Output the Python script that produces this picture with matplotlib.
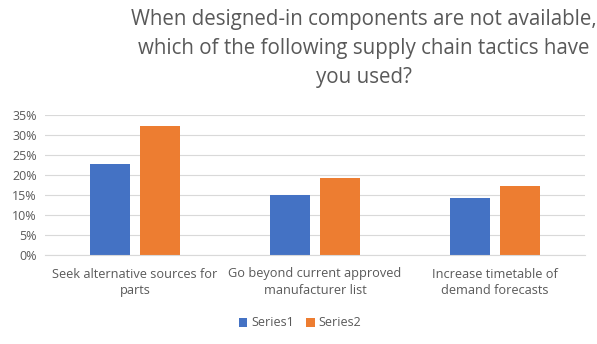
import numpy as np
import matplotlib.pyplot as plt
from matplotlib.ticker import PercentFormatter

categories = ['Seek alternative sources for\nparts',
              'Go beyond current approved\nmanufacturer list',
              'Increase timetable of\ndemand forecasts']
series1 = [0.227, 0.150, 0.143]
series2 = [0.323, 0.193, 0.172]

plt.rcParams['font.family'] = ['Open Sans', 'DejaVu Sans']
grey = '#595959'

fig = plt.figure(figsize=(5.97, 3.44), dpi=100)
ax = fig.add_axes([45 / 597, 1 - 255 / 344, 540 / 597, 140 / 344])

x = np.arange(len(categories))
w = 0.22
ax.bar(x - 0.03 - w / 2, series1, w, color='#4472C4', label='Series1')
ax.bar(x + 0.03 + w / 2, series2, w, color='#ED7D31', label='Series2')

ax.set_xlim(-0.5, 2.5)
ax.set_ylim(0, 0.35)
ax.set_yticks(np.arange(0, 0.36, 0.05))
ax.yaxis.set_major_formatter(PercentFormatter(1.0, decimals=0))
ax.grid(axis='y', color='#D9D9D9', linewidth=0.8)
ax.set_axisbelow(True)
for s in ['top', 'right', 'left']:
    ax.spines[s].set_visible(False)
ax.spines['bottom'].set_color('#D9D9D9')
ax.set_xticks(x)
ax.set_xticklabels(categories, fontsize=9.2, color=grey, linespacing=1.35)
ax.tick_params(axis='both', length=0, labelcolor=grey)
ax.tick_params(axis='y', labelsize=9, pad=6)
ax.tick_params(axis='x', pad=9)

fig.text(0.61, 0.975, 'When designed-in components are not available,\n'
         'which of the following supply chain tactics have\nyou used?',
         ha='center', va='top', fontsize=14.8, color=grey, linespacing=1.5)

ax.legend(loc='center', bbox_to_anchor=(300 / 597, 1 - 323 / 344),
          bbox_transform=fig.transFigure, ncol=2, frameon=False,
          fontsize=9, labelcolor=grey, handlelength=0.7, handleheight=0.7,
          handletextpad=0.3, columnspacing=1.0)

fig.savefig('out.png', dpi=100)
